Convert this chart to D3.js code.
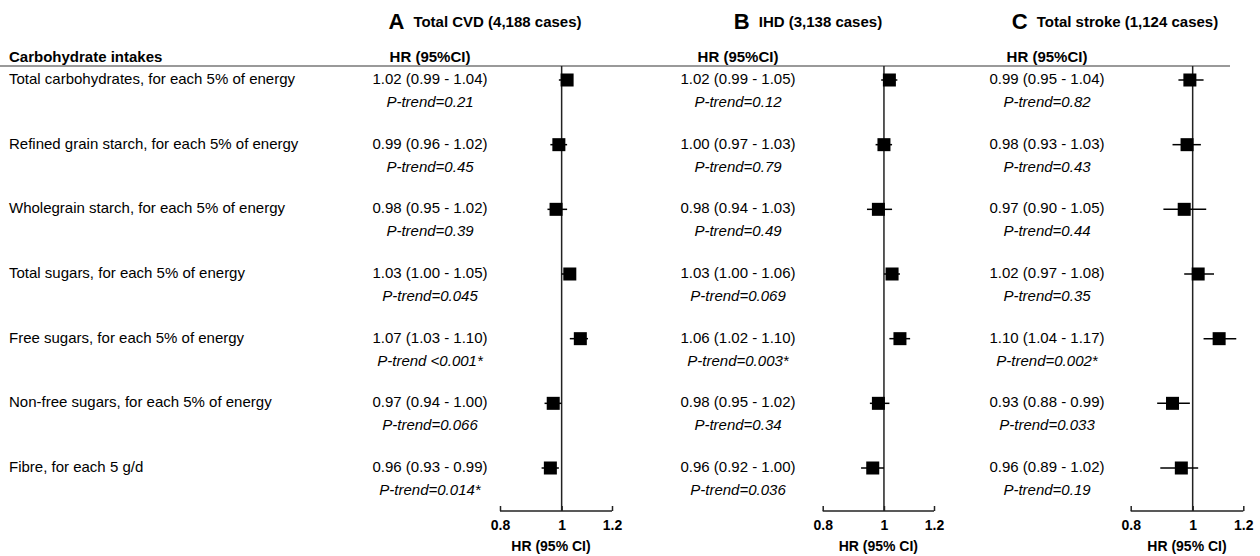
<!DOCTYPE html>
<html>
<head>
<meta charset="utf-8">
<script src="https://cdn.jsdelivr.net/npm/d3@7"></script>
<style>
  body { margin: 0; background: #fff; }
  svg { font-family: Arial, "Liberation Sans", sans-serif; }
</style>
</head>
<body>
<svg id="chart" width="1260" height="556"></svg>
<script>
var categories = [
  'Total carbohydrates, for each 5% of energy',
  'Refined grain starch, for each 5% of energy',
  'Wholegrain starch, for each 5% of energy',
  'Total sugars, for each 5% of energy',
  'Free sugars, for each 5% of energy',
  'Non-free sugars, for each 5% of energy',
  'Fibre, for each 5 g/d'
];

var panelLetters = ['A', 'B', 'C'];
var panelTitles = ['Total CVD (4,188 cases)', 'IHD (3,138 cases)', 'Total stroke (1,124 cases)'];

var hrA = [1.02, 0.99, 0.98, 1.03, 1.07, 0.97, 0.96];
var loA = [0.99, 0.96, 0.95, 1.00, 1.03, 0.94, 0.93];
var hiA = [1.04, 1.02, 1.02, 1.05, 1.10, 1.00, 0.99];
var pA = ['P-trend=0.21', 'P-trend=0.45', 'P-trend=0.39', 'P-trend=0.045', 'P-trend <0.001*', 'P-trend=0.066', 'P-trend=0.014*'];

var hrB = [1.02, 1.00, 0.98, 1.03, 1.06, 0.98, 0.96];
var loB = [0.99, 0.97, 0.94, 1.00, 1.02, 0.95, 0.92];
var hiB = [1.05, 1.03, 1.03, 1.06, 1.10, 1.02, 1.00];
var pB = ['P-trend=0.12', 'P-trend=0.79', 'P-trend=0.49', 'P-trend=0.069', 'P-trend=0.003*', 'P-trend=0.34', 'P-trend=0.036'];

var hrC = [0.99, 0.98, 0.97, 1.02, 1.10, 0.93, 0.96];
var loC = [0.95, 0.93, 0.90, 0.97, 1.04, 0.88, 0.89];
var hiC = [1.04, 1.03, 1.05, 1.08, 1.17, 0.99, 1.02];
var pC = ['P-trend=0.82', 'P-trend=0.43', 'P-trend=0.44', 'P-trend=0.35', 'P-trend=0.002*', 'P-trend=0.033', 'P-trend=0.19'];

var xTicks = [0.8, 1, 1.2];

var panels = [
  { hr: hrA, lo: loA, hi: hiA, p: pA, textX: 430, titleX: 485, range: [500, 612] },
  { hr: hrB, lo: loB, hi: hiB, p: pB, textX: 738, titleX: 808, range: [822.7, 934] },
  { hr: hrC, lo: loC, hi: hiC, p: pC, textX: 1047, titleX: 1115, range: [1130.7, 1243.3] }
];

var svg = d3.select('#chart');
var axisY = 511;
var headerY = 66;
var fs = 15;

var yScale = d3.scalePoint()
  .domain(d3.range(categories.length))
  .range([80, 468]);

var fmt = d3.format('.2f');

// header
svg.append('text')
  .attr('x', 9)
  .attr('y', 58)
  .attr('dominant-baseline', 'middle')
  .attr('font-size', fs)
  .attr('font-weight', 'bold')
  .text('Carbohydrate intakes');

svg.append('line')
  .attr('x1', 0).attr('x2', 1230)
  .attr('y1', headerY).attr('y2', headerY)
  .attr('stroke', '#777')
  .attr('stroke-width', 1.5);

// row labels
svg.selectAll('text.cat')
  .data(categories)
  .enter()
  .append('text')
  .attr('class', 'cat')
  .attr('x', 9)
  .attr('y', function (d, i) { return yScale(i); })
  .attr('dominant-baseline', 'middle')
  .attr('font-size', fs)
  .text(function (d) { return d; });

panels.forEach(function (pn, k) {
  var g = svg.append('g');
  var xScale = d3.scaleLog().domain([0.8, 1.2]).range(pn.range);

  // title, centred over the panel
  var title = g.append('text')
    .attr('y', 23)
    .attr('dominant-baseline', 'middle')
    .attr('font-weight', 'bold');
  title.append('tspan').attr('font-size', 22).text(panelLetters[k]);
  title.append('tspan').attr('font-size', fs).attr('dx', 9).text(panelTitles[k]);
  var bw = title.node().getBBox().width;
  title.attr('x', pn.titleX - bw / 2);

  g.append('text')
    .attr('x', pn.textX)
    .attr('y', 58)
    .attr('text-anchor', 'middle')
    .attr('dominant-baseline', 'middle')
    .attr('font-size', fs)
    .attr('font-weight', 'bold')
    .text('HR (95%CI)');

  // HR text and P-trend
  g.selectAll('text.hr')
    .data(pn.hr)
    .enter()
    .append('text')
    .attr('class', 'hr')
    .attr('x', pn.textX)
    .attr('y', function (d, i) { return yScale(i); })
    .attr('text-anchor', 'middle')
    .attr('dominant-baseline', 'middle')
    .attr('font-size', fs)
    .text(function (d, i) { return fmt(d) + ' (' + fmt(pn.lo[i]) + ' - ' + fmt(pn.hi[i]) + ')'; });

  g.selectAll('text.pt')
    .data(pn.p)
    .enter()
    .append('text')
    .attr('class', 'pt')
    .attr('x', pn.textX)
    .attr('y', function (d, i) { return yScale(i) + 23; })
    .attr('text-anchor', 'middle')
    .attr('dominant-baseline', 'middle')
    .attr('font-size', fs)
    .attr('font-style', 'italic')
    .text(function (d) { return d; });

  // reference line
  g.append('line')
    .attr('x1', xScale(1)).attr('x2', xScale(1))
    .attr('y1', headerY).attr('y2', axisY)
    .attr('stroke', '#222')
    .attr('stroke-width', 1.5);

  // CI whiskers
  g.selectAll('line.ci')
    .data(pn.hr)
    .enter()
    .append('line')
    .attr('class', 'ci')
    .attr('x1', function (d, i) { return xScale(pn.lo[i]); })
    .attr('x2', function (d, i) { return xScale(pn.hi[i]); })
    .attr('y1', function (d, i) { return yScale(i); })
    .attr('y2', function (d, i) { return yScale(i); })
    .attr('stroke', '#000')
    .attr('stroke-width', 1.5);

  // squares
  var s = 13;
  g.selectAll('rect.pt')
    .data(pn.hr)
    .enter()
    .append('rect')
    .attr('x', function (d) { return xScale(d) - s / 2; })
    .attr('y', function (d, i) { return yScale(i) - s / 2; })
    .attr('width', s)
    .attr('height', s)
    .attr('fill', '#000');

  // axis
  var xAxis = d3.axisBottom(xScale)
    .tickValues(xTicks)
    .tickSize(-5)
    .tickPadding(9)
    .tickFormat(d3.format('~g'));

  var ax = g.append('g')
    .attr('transform', 'translate(0, ' + axisY + ')')
    .call(xAxis);
  ax.select('.domain')
    .attr('d', 'M' + pn.range[0] + ',0H' + pn.range[1])
    .attr('stroke', '#222')
    .attr('stroke-width', 1.5);
  ax.selectAll('.tick line').attr('stroke', '#222').attr('stroke-width', 1.5);
  ax.selectAll('.tick text')
    .attr('font-size', 14)
    .attr('font-weight', 'bold')
    .attr('font-family', 'Arial, "Liberation Sans", sans-serif')
    .attr('fill', '#000');

  g.append('text')
    .attr('x', (pn.range[0] + pn.range[1]) / 2 - (k === 0 ? 5 : 0))
    .attr('y', 547)
    .attr('text-anchor', 'middle')
    .attr('dominant-baseline', 'middle')
    .attr('font-size', 14)
    .attr('font-weight', 'bold')
    .text('HR (95% CI)');
});
</script>
</body>
</html>
